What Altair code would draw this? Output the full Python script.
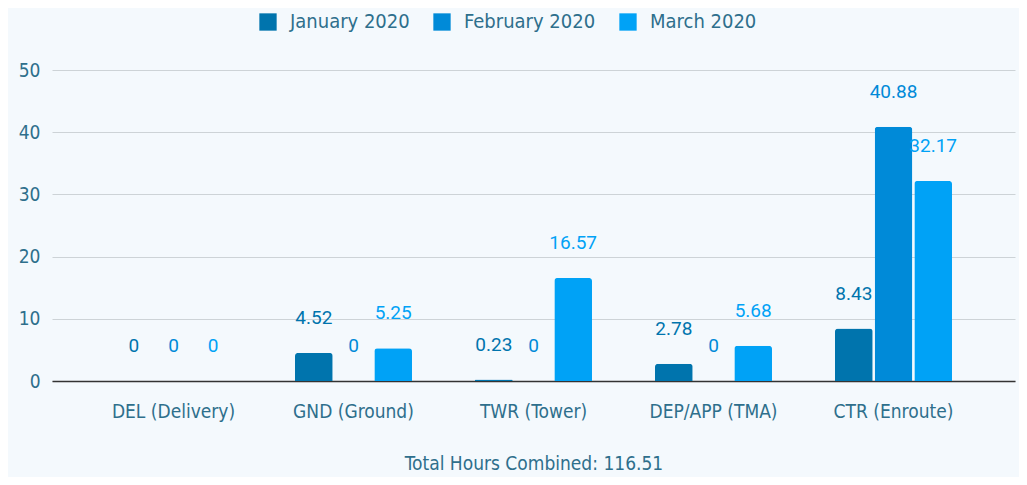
import altair as alt
import pandas as pd

categories = ["DEL (Delivery)", "GND (Ground)", "TWR (Tower)", "DEP/APP (TMA)", "CTR (Enroute)"]
months = ["January 2020", "February 2020", "March 2020"]
jan = [0, 4.52, 0.23, 2.78, 8.43]
feb = [0, 0, 0, 0, 40.88]
mar = [0, 5.25, 16.57, 5.68, 32.17]
colors = ["#0074ad", "#008ad8", "#00a2f6"]
total_label = "Total Hours Combined: 116.51"

rows = []
for m, vals in zip(months, [jan, feb, mar]):
    for c, v in zip(categories, vals):
        rows.append({"category": c, "month": m, "hours": v, "label": f"{v:g}"})
df = pd.DataFrame(rows)

font = "DejaVu Sans Condensed, DejaVu Sans"
txt_col = "#2e6f8c"

x = alt.X("category:N", sort=categories,
          scale=alt.Scale(paddingInner=0.35, paddingOuter=0.35),
          axis=alt.Axis(title=total_label, labelAngle=0, labelPadding=21, ticks=False,
                        domainColor="#333333", domainWidth=1.5, grid=False,
                        labelFontSize=19, labelColor=txt_col, labelFont=font,
                        titleFontSize=19, titleColor=txt_col, titleFont=font,
                        titleFontWeight="normal", titlePadding=33))
xo = alt.XOffset("month:N", sort=months, scale=alt.Scale(paddingInner=0.05))
y = alt.Y("hours:Q", scale=alt.Scale(domain=[0, 50]),
          axis=alt.Axis(title=None, values=[0, 10, 20, 30, 40, 50], ticks=False, domain=False,
                        labelPadding=12, labelFontSize=19, labelColor=txt_col, labelFont=font,
                        gridColor="#cdd3d7", gridWidth=1.2))
color = alt.Color("month:N", sort=months, scale=alt.Scale(domain=months, range=colors),
                  legend=alt.Legend(title=None, orient="none", direction="horizontal",
                                    legendX=206, legendY=-58, symbolType="square",
                                    symbolSize=300, symbolStrokeWidth=0, symbolOpacity=1,
                                    labelFontSize=20, labelColor=txt_col, labelFont=font,
                                    columnPadding=22, labelOffset=12))

bars = alt.Chart(df).mark_bar(cornerRadiusTopLeft=3, cornerRadiusTopRight=3).encode(
    x=x, xOffset=xo, y=y, color=color)
labels = alt.Chart(df).mark_text(baseline="middle", dy=-35, fontSize=19, font="Roboto").encode(
    x=x, xOffset=xo, y=y, text="label:N",
    color=alt.Color("month:N", sort=months, scale=alt.Scale(domain=months, range=colors), legend=None))

chart = alt.layer(bars, labels).properties(
    width=963, height=311,
    autosize=alt.AutoSizeParams(type="none"),
    padding={"left": 44, "top": 62, "right": 4, "bottom": 96},
    background="#f4f9fd",
).configure_view(stroke=None)

chart.save("out.html", embed_options={"renderer": "svg", "actions": False})
